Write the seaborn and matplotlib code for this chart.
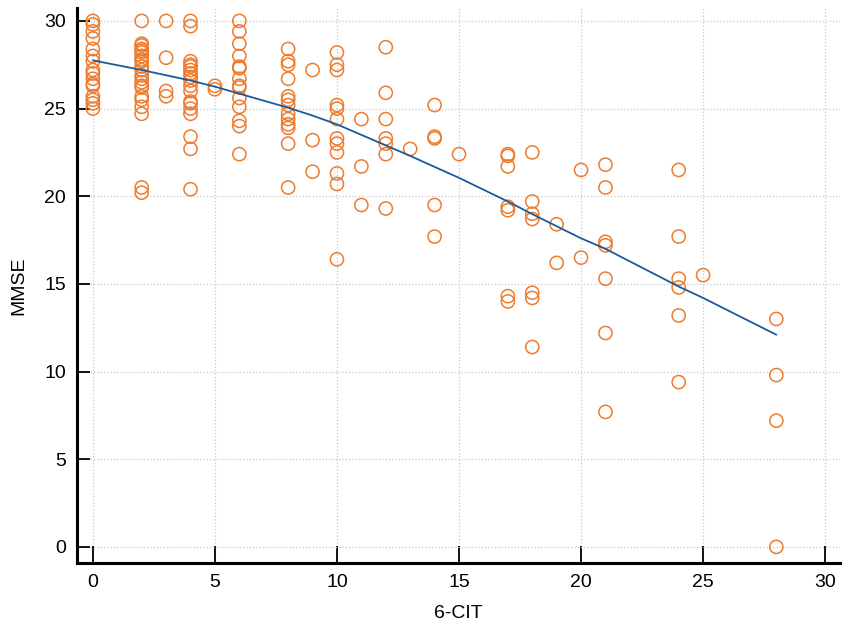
import numpy as np
import pandas as pd
import matplotlib
matplotlib.use('Agg')
import matplotlib.pyplot as plt
import seaborn as sns

# 6-CIT score levels and the MMSE values read at each level
cit_levels = [0, 2, 3, 4, 5, 6, 8, 9, 10, 11, 12, 13, 14, 15, 17, 18, 19, 20, 21, 24, 25, 28]
mmse_by_level = [
    [30.0, 29.8, 29.4, 29.0, 28.4, 28.0, 27.7, 27.2, 27.0, 26.7, 26.4, 26.3, 25.7, 25.5, 25.3, 25.0],
    [30.0, 28.7, 28.6, 28.4, 28.3, 28.2, 28.0, 27.8, 27.7, 27.4, 27.2, 26.9, 26.7, 26.5, 26.3, 26.2,
     25.7, 25.5, 25.1, 24.7, 20.5, 20.2],
    [30.0, 27.9, 26.0, 25.7],
    [30.0, 29.7, 27.7, 27.5, 27.4, 27.2, 27.0, 26.8, 26.6, 26.3, 26.0, 25.4, 25.3, 25.0, 24.7, 23.4,
     22.7, 20.4],
    [26.3, 26.1],
    [30.0, 29.4, 28.7, 28.0, 27.4, 27.3, 26.7, 26.3, 26.2, 25.6, 25.1, 24.3, 24.0, 22.4],
    [28.4, 27.7, 27.5, 26.7, 25.7, 25.5, 25.2, 24.7, 24.4, 24.1, 23.9, 23.0, 20.5],
    [27.2, 23.2, 21.4],
    [28.2, 27.5, 27.2, 25.2, 25.0, 24.4, 23.3, 23.0, 22.5, 21.3, 20.7, 16.4],
    [24.4, 21.7, 19.5],
    [28.5, 25.9, 24.4, 23.3, 23.0, 22.4, 19.3],
    [22.7],
    [25.2, 23.4, 23.3, 19.5, 17.7],
    [22.4],
    [22.4, 22.3, 21.7, 19.4, 19.2, 14.3, 14.0],
    [22.5, 19.7, 19.0, 18.7, 14.5, 14.2, 11.4],
    [18.4, 16.2],
    [21.5, 16.5],
    [21.8, 20.5, 17.4, 17.2, 15.3, 12.2, 7.7],
    [21.5, 17.7, 15.3, 14.8, 13.2, 9.4],
    [15.5],
    [13.0, 9.8, 7.2, 0.0],
]

# smoothed trend curve
fit_x = [0, 2, 4, 5, 6, 8, 9, 10, 12, 13, 15, 17, 18, 20, 21, 24, 25, 28]
fit_y = [27.75, 27.2, 26.6, 26.25, 25.85, 25.05, 24.6, 24.1, 22.9, 22.3, 21.05, 19.7, 18.98,
         17.6, 17.0, 14.85, 14.2, 12.1]

x_ticks = [0, 5, 10, 15, 20, 25, 30]
y_ticks = [0, 5, 10, 15, 20, 25, 30]

rows = []
for lvl, vals in zip(cit_levels, mmse_by_level):
    for v in vals:
        rows.append((lvl, v))
df = pd.DataFrame(rows, columns=['6-CIT', 'MMSE'])
fit_df = pd.DataFrame({'6-CIT': fit_x, 'MMSE': fit_y})

sns.set_style('white')
plt.rcParams['font.family'] = ['Liberation Sans Narrow', 'Liberation Sans', 'DejaVu Sans']

fig = plt.figure(figsize=(8.5, 6.26), dpi=100)
ax = fig.add_axes([0.0906, 0.1006, 0.8974, 0.887])

sns.scatterplot(data=df, x='6-CIT', y='MMSE', ax=ax, marker='o', s=90,
                facecolors='none', edgecolor='#EE7B2E', linewidth=1.1, zorder=3)
sns.lineplot(data=fit_df, x='6-CIT', y='MMSE', ax=ax, color='#1B5A9C', linewidth=1.3,
             zorder=4, estimator=None)

ax.set_xlim(-0.65, 30.6)
ax.set_ylim(-0.92, 30.75)
ax.set_xticks(x_ticks)
ax.set_yticks(y_ticks)
ax.grid(True, color='#c8c8c8', linestyle=':', linewidth=0.9)
ax.set_axisbelow(True)

for s in ['top', 'right']:
    ax.spines[s].set_visible(False)
for s in ['left', 'bottom']:
    ax.spines[s].set_linewidth(2.2)
    ax.spines[s].set_color('black')

ax.tick_params(axis='both', direction='in', length=9, width=1.3, colors='black',
               labelcolor='black', labelsize=14, pad=8, bottom=True, left=True)
ax.tick_params(axis='x', length=12)
ax.set_xlabel('6-CIT', fontsize=14, labelpad=10, color='black')
ax.set_ylabel('MMSE', fontsize=14, labelpad=12, color='black')

fig.savefig('out.png', dpi=100)
